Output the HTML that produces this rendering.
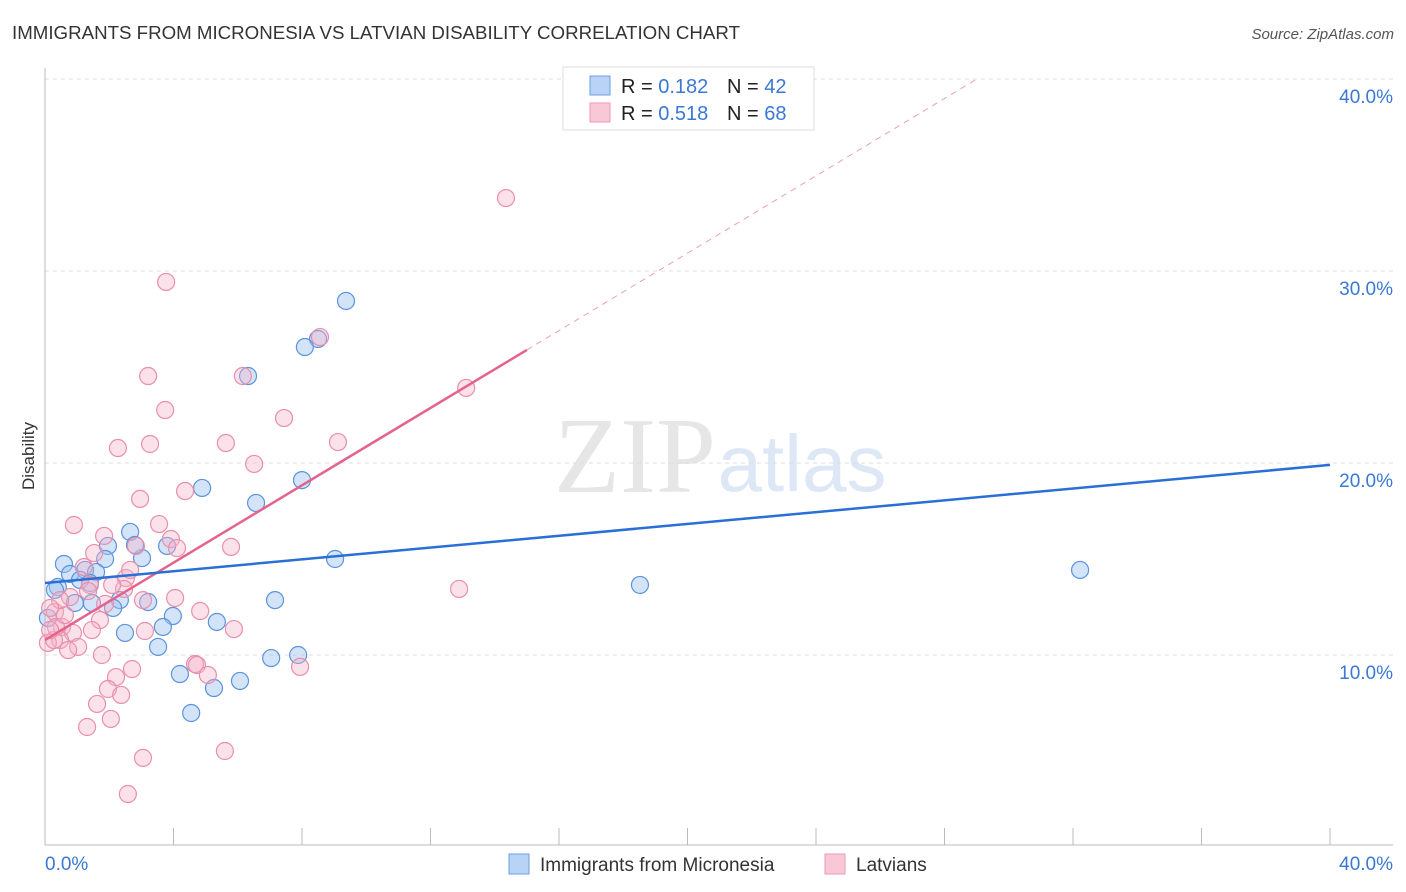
<!DOCTYPE html>
<html><head><meta charset="utf-8"><style>
body{margin:0;background:#fff;font-family:"Liberation Sans",sans-serif;}
svg{display:block}
</style></head><body>
<svg id="chart" width="1406" height="892" xmlns="http://www.w3.org/2000/svg">
<text x="12" y="39" font-size="18" fill="#333" textLength="728" lengthAdjust="spacingAndGlyphs">IMMIGRANTS FROM MICRONESIA VS LATVIAN DISABILITY CORRELATION CHART</text>
<text x="1394" y="39" font-size="15" fill="#555" font-style="italic" text-anchor="end">Source: ZipAtlas.com</text>
<text x="635" y="492" font-size="108" fill="#e6e6e6" font-family="Liberation Serif,serif" text-anchor="middle">ZIP</text>
<text x="802" y="491" font-size="80" fill="#dde7f5" text-anchor="middle">atlas</text>
<text transform="translate(34,456) rotate(-90)" font-size="17" fill="#333" text-anchor="middle">Disability</text>
<g id="grid"></g><g id="marks"></g>
<g>
<rect x="563" y="67" width="251" height="63" fill="#fff" stroke="#ddd"/>
<rect x="590" y="76" width="20" height="19" fill="#b8d3f5" stroke="#6e9fe0"/>
<rect x="590" y="103" width="20" height="19" fill="#f9c8d6" stroke="#ee9ab5"/>
<text x="621" y="93" font-size="20" fill="#222">R = <tspan fill="#3a78d4">0.182</tspan></text>
<text x="727" y="93" font-size="20" fill="#222">N = <tspan fill="#3a78d4">42</tspan></text>
<text x="621" y="120" font-size="20" fill="#222">R = <tspan fill="#3a78d4">0.518</tspan></text>
<text x="727" y="120" font-size="20" fill="#222">N = <tspan fill="#3a78d4">68</tspan></text>
</g>
<g>
<rect x="509" y="854" width="20" height="20" fill="#b8d3f5" stroke="#6e9fe0"/>
<text x="540" y="871" font-size="19" fill="#333">Immigrants from Micronesia</text>
<rect x="825" y="854" width="20" height="20" fill="#f9c8d6" stroke="#ee9ab5"/>
<text x="856" y="871" font-size="19" fill="#333">Latvians</text>
</g>
</svg>
<script>
const yTicks=[10,20,30,40];
const yTickLabels=["10.0%","20.0%","30.0%","40.0%"];
const xTickLabels=["0.0%","40.0%"];
const blueX=[9.37,8.50,8.09,6.32,4.89,6.57,8.00,9.03,2.65,1.96,3.80,3.02,1.87,0.59,1.25,1.59,0.78,0.40,1.09,1.40,0.31,2.33,3.21,7.16,0.93,2.12,3.98,3.67,5.35,2.49,3.52,4.20,5.26,6.07,7.04,7.88,4.55,18.52,32.22,0.09,1.46,2.80];
const blueY=[28.44,26.46,26.04,24.53,18.70,17.92,19.11,15.00,16.41,15.68,15.68,15.05,15.00,14.74,14.43,14.32,14.22,13.54,13.91,13.75,13.39,12.86,12.76,12.86,12.71,12.45,12.03,11.46,11.72,11.15,10.42,9.01,8.28,8.65,9.84,10.00,6.98,13.65,14.43,11.93,12.71,15.73];
const pinkX=[14.35,3.77,8.56,3.21,6.16,3.74,13.11,7.44,2.27,3.27,5.63,9.12,6.51,4.36,2.96,0.90,3.55,1.84,3.92,5.79,4.11,1.53,2.83,1.21,2.52,1.40,2.46,0.78,4.05,3.05,12.89,4.83,1.87,1.71,0.31,0.53,0.87,5.88,3.11,0.47,0.09,1.03,0.72,0.28,1.77,4.67,4.73,7.94,2.71,5.07,2.21,1.96,2.37,1.62,2.05,1.31,5.60,3.05,2.58,0.34,0.16,0.62,1.34,2.09,0.47,0.16,2.65,1.46];
const pinkY=[33.80,29.43,26.56,24.53,24.53,22.76,23.91,22.34,20.78,20.99,21.04,21.09,19.95,18.54,18.13,16.77,16.82,16.20,16.04,15.63,15.57,15.31,15.68,14.58,14.01,13.65,13.44,13.02,12.97,12.86,13.44,12.29,12.66,11.82,12.24,11.46,11.15,11.35,11.25,10.78,10.63,10.42,10.26,10.78,10.00,9.53,9.48,9.38,9.27,8.96,8.85,8.23,7.92,7.45,6.67,6.25,5.00,4.64,2.76,11.46,11.30,12.08,13.33,13.65,12.86,12.45,14.43,11.30];
const blueTrend=[13.75,19.9];
const pinkTrend=[10.78,25.89];
const pinkTrendEnd=15;

const NS="http://www.w3.org/2000/svg";
const xs=v=>45+v/40*1285;
const ys=v=>655-(v-10)*19.2;
function mk(tag,attrs,parent){const e=document.createElementNS(NS,tag);for(const k in attrs)e.setAttribute(k,attrs[k]);parent.appendChild(e);return e;}
const grid=document.getElementById('grid'), marks=document.getElementById('marks');
yTicks.forEach((t,i)=>{
  const l=mk('line',{x1:45,x2:1393,y1:ys(t),y2:ys(t),stroke:'#ddd','stroke-dasharray':'4,4'},grid);
  
  
  const tx=mk('text',{x:1393,y:ys(t)+24,'font-size':19,fill:'#3a78d4','text-anchor':'end'},grid);
  tx.textContent=yTickLabels[i];
  
  
});
const ax=mk('line',{x1:45,x2:45,y1:68,y2:845,stroke:'#bbb'},grid);


const bx=mk('line',{x1:45,x2:1393,y1:845,y2:845,stroke:'#bbb'},grid);


for(let v=4;v<=40;v+=4){
  const t=mk('line',{x1:xs(v),x2:xs(v),y1:828,y2:845,stroke:'#bbb'},grid);
  
  
}
const xl0=mk('text',{x:45,y:870,'font-size':19,fill:'#3a78d4'},grid);xl0.textContent=xTickLabels[0];


const xl1=mk('text',{x:1393,y:870,'font-size':19,fill:'#3a78d4','text-anchor':'end'},grid);xl1.textContent=xTickLabels[1];



blueX.forEach((x,i)=>{
  const c=mk('circle',{cx:xs(x),cy:ys(blueY[i]),r:8.5,fill:'rgba(160,196,240,0.45)',stroke:'#5b93dc','stroke-width':1.2},marks);
  
  
});
pinkX.forEach((x,i)=>{
  const c=mk('circle',{cx:xs(x),cy:ys(pinkY[i]),r:8.5,fill:'rgba(245,180,200,0.38)',stroke:'#e98fab','stroke-width':1.2},marks);
  
  
});
const slope=(pinkTrend[1]-pinkTrend[0])/pinkTrendEnd;
const xEnd=(40-pinkTrend[0])/slope;
const pd=mk('line',{x1:xs(pinkTrendEnd),y1:ys(pinkTrend[1]),x2:xs(xEnd),y2:ys(40),stroke:'#eaa0b6','stroke-width':1,'stroke-dasharray':'6,5'},marks);


const pl=mk('line',{x1:xs(0),y1:ys(pinkTrend[0]),x2:xs(pinkTrendEnd),y2:ys(pinkTrend[1]),stroke:'#e5628c','stroke-width':2.5},marks);


const bl=mk('line',{x1:xs(0),y1:ys(blueTrend[0]),x2:xs(40),y2:ys(blueTrend[1]),stroke:'#2a6fd6','stroke-width':2.5},marks);


</script>
</body></html>
